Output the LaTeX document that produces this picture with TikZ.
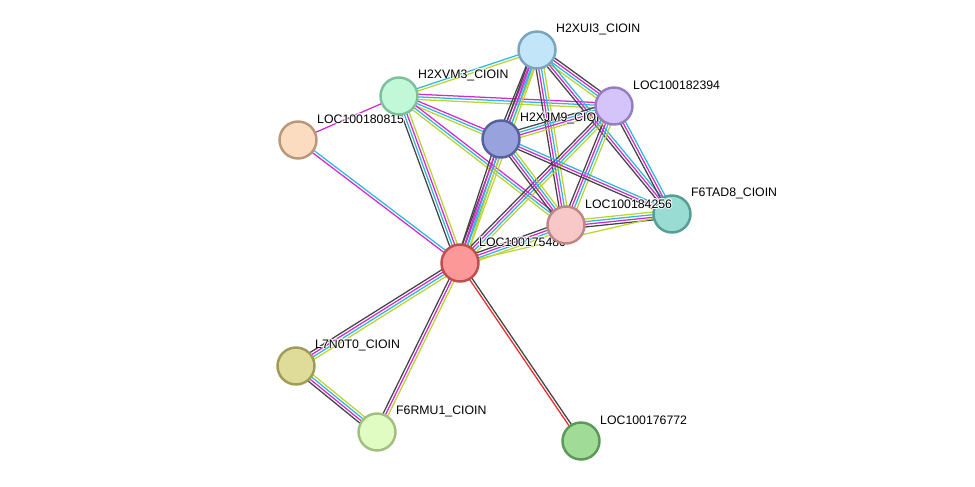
\documentclass[tikz,border=0pt]{standalone}
\usepackage{fontspec}
\setmainfont{Liberation Sans}
\usetikzlibrary{calc}

\definecolor{dbcol}{HTML}{2EB8DC}
\definecolor{expcol}{HTML}{D22AD2}
\definecolor{txtcol}{HTML}{BCD431}
\definecolor{coexcol}{HTML}{444444}
\definecolor{fuscol}{HTML}{EE2A2A}

% fill (f) and rim (d) of each protein
\definecolor{fui3}{RGB}{194,229,250} \definecolor{dui3}{RGB}{124,164,190}
\definecolor{fvm3}{RGB}{192,248,216} \definecolor{dvm3}{RGB}{126,192,156}
\definecolor{fl394}{RGB}{212,196,250} \definecolor{dl394}{RGB}{150,126,196}
\definecolor{fl815}{RGB}{252,220,192} \definecolor{dl815}{RGB}{184,152,120}
\definecolor{fjm9}{RGB}{152,162,220} \definecolor{djm9}{RGB}{86,98,160}
\definecolor{fl256}{RGB}{248,200,200} \definecolor{dl256}{RGB}{190,134,134}
\definecolor{ftad8}{RGB}{152,220,212} \definecolor{dtad8}{RGB}{86,158,148}
\definecolor{fl480}{RGB}{252,152,152} \definecolor{dl480}{RGB}{190,78,78}
\definecolor{fn0t0}{RGB}{222,220,152} \definecolor{dn0t0}{RGB}{158,156,86}
\definecolor{frmu1}{RGB}{224,252,194} \definecolor{drmu1}{RGB}{160,192,126}
\definecolor{fl772}{RGB}{160,220,152} \definecolor{dl772}{RGB}{90,154,86}

\pgfdeclarelayer{edges}
\pgfsetlayers{edges,main}

% parallel coloured lines between two nodes
\newcommand{\link}[3]{%
  \foreach \c [count=\i] in {#3} {\xdef\nlines{\i}}%
  \foreach \c [count=\i] in {#3} {%
    \pgfmathsetmacro{\off}{(\i-(\nlines+1)/2)*1.5}%
    \draw[edge, draw=\c] ($(#1)!\off pt!90:(#2)$) -- ($(#2)!\off pt!-90:(#1)$);
  }}

% white rim round a name
\newcommand{\haloed}[1]{%
  \rlap{\color{white}\hspace{0.45pt}#1}\rlap{\color{white}\hspace{-0.45pt}#1}%
  \rlap{\color{white}\raisebox{0.45pt}{#1}}\rlap{\color{white}\raisebox{-0.45pt}{#1}}%
  \rlap{\color{white}\hspace{0.35pt}\raisebox{0.35pt}{#1}}\rlap{\color{white}\hspace{-0.35pt}\raisebox{0.35pt}{#1}}%
  \rlap{\color{white}\hspace{0.35pt}\raisebox{-0.35pt}{#1}}\rlap{\color{white}\hspace{-0.35pt}\raisebox{-0.35pt}{#1}}%
  #1}

\begin{document}
\begin{tikzpicture}[x=0.02cm, y=-0.02cm,
    every node/.style={font=\fontsize{7}{8}\selectfont},
    prot/.style={circle, draw, line width=1.4pt, minimum size=0.74cm, inner sep=0pt},
    edge/.style={line width=0.72pt},
    pname/.style={anchor=west, inner sep=0.5pt}]
  \useasboundingbox (0,0) rectangle (975,487);

  % proteins, each with its name, back to front
  \foreach \n/\x/\y/\t in {l815/298/140/LOC100180815, vm3/399/96/H2XVM3\_CIOIN,
      ui3/537/50/H2XUI3\_CIOIN, jm9/501/139/H2XJM9\_CIOIN, l394/614/106/LOC100182394,
      tad8/672/214/F6TAD8\_CIOIN, l480/460/263/LOC100175480, l256/566/225/LOC100184256,
      n0t0/296/366/L7N0T0\_CIOIN, rmu1/377/432/F6RMU1\_CIOIN, l772/581/441/LOC100176772} {
    \node[prot, fill=f\n, draw=d\n] (\n) at (\x,\y) {};
    \node[pname] (\n-name) at ($(\n)+(18,-21)$) {\haloed{\t}};
  }

  % evidence lines
  \begin{pgfonlayer}{edges}
    \link{l815}{vm3}{expcol}
    \link{l815}{l480}{expcol,dbcol}
    \link{vm3}{ui3}{txtcol,dbcol}
    \link{vm3}{l394}{txtcol,dbcol,expcol}
    \link{vm3}{jm9}{txtcol,dbcol,expcol}
    \link{vm3}{l256}{txtcol,dbcol,expcol}
    \link{vm3}{l480}{coexcol,dbcol,expcol,txtcol}
    \link{ui3}{jm9}{coexcol,expcol,dbcol,txtcol}
    \link{ui3}{l480}{coexcol,expcol,dbcol,txtcol}
    \link{ui3}{l394}{txtcol,dbcol,expcol,coexcol}
    \link{ui3}{l256}{coexcol,expcol,dbcol,txtcol}
    \link{ui3}{tad8}{coexcol,expcol,dbcol}
    \link{l394}{jm9}{coexcol,dbcol,expcol,txtcol}
    \link{l394}{l256}{coexcol,expcol,dbcol,txtcol}
    \link{l394}{l480}{coexcol,expcol,dbcol,txtcol}
    \link{l394}{tad8}{coexcol,expcol,dbcol}
    \link{jm9}{l256}{coexcol,expcol,dbcol,txtcol}
    \link{jm9}{tad8}{coexcol,expcol,dbcol}
    \link{jm9}{l480}{coexcol,expcol,dbcol,txtcol}
    \link{l256}{tad8}{coexcol,expcol,dbcol,txtcol}
    \link{l256}{l480}{coexcol,expcol,dbcol,txtcol}
    \link{tad8}{l480}{txtcol}
    \link{l480}{n0t0}{coexcol,expcol,dbcol,txtcol}
    \link{l480}{rmu1}{coexcol,expcol,txtcol}
    \link{l480}{l772}{fuscol,coexcol}
    \link{n0t0}{rmu1}{coexcol,expcol,dbcol,txtcol}
  \end{pgfonlayer}
\end{tikzpicture}
\end{document}
